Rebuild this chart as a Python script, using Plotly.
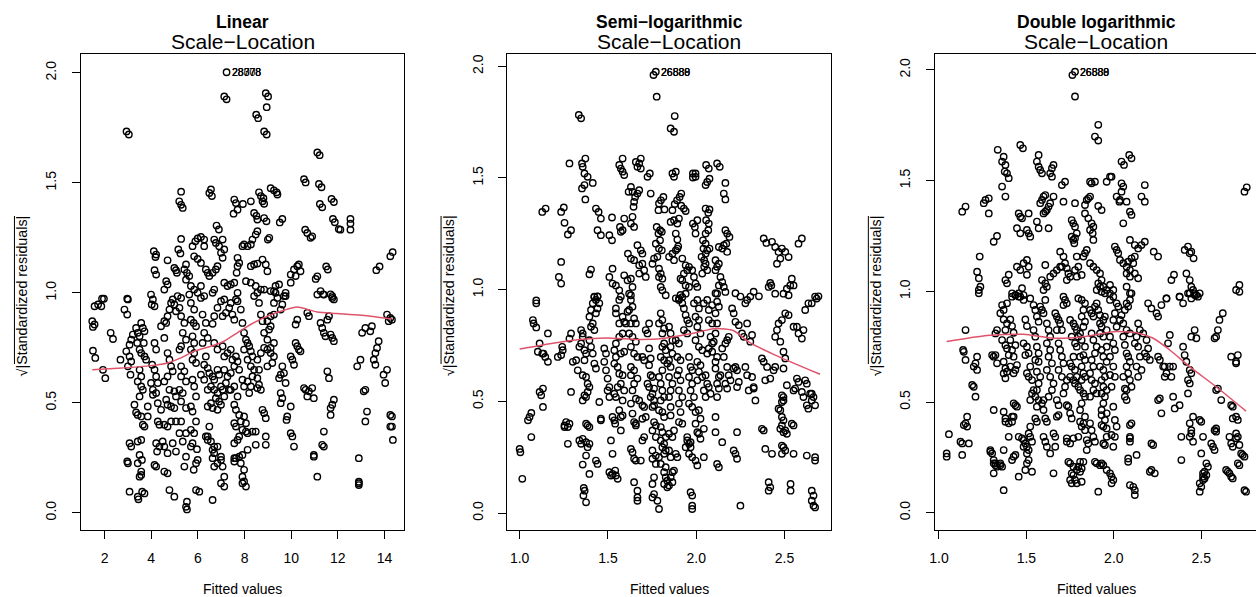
import plotly.graph_objects as go

W, H = 1256, 597
FONT = "Liberation Sans, Arial, Helvetica, sans-serif"

panel_titles = ["Linear", "Semi\u2212logarithmic", "Double logarithmic"]
sub_title = "Scale\u2212Location"
x_title = "Fitted values"
y_title = "\u221a|Standardized residuals|"

y_tick_vals = [0.0, 0.5, 1.0, 1.5, 2.0]
y_tick_text = ["0.0", "0.5", "1.0", "1.5", "2.0"]
lin_x_ticks = [2, 4, 6, 8, 10, 12, 14]
lin_x_text = ["2", "4", "6", "8", "10", "12", "14"]
log_x_ticks = [1.0, 1.5, 2.0, 2.5]
log_x_text = ["1.0", "1.5", "2.0", "2.5"]

# ---------------- Linear model: (fitted, sqrt|std resid|) ----------------
linear_points = [
(7.23,2.003),(7.13,1.893),(7.23,1.88),(8.91,1.908),(9.01,1.893),(8.95,1.844),(8.5,1.81),(8.58,1.794),(8.84,1.734),(8.95,1.72),(2.94,1.734),(3.04,1.72),(11.12,1.638),(11.22,1.626),(10.55,1.517),(10.62,1.502),(11.19,1.495),(11.3,1.48),(11.23,1.404),(11.33,1.389),(11.73,1.427),(11.83,1.413),(11.79,1.336),(11.87,1.321),(12.04,1.29),(12.11,1.287),(12.54,1.336),(12.54,1.315),(12.54,1.287),
(5.28,1.46),(5.2,1.416),(5.28,1.4),(5.35,1.386),(5.28,1.245),(6.56,1.47),(6.49,1.454),(6.6,1.44),(7.56,1.424),(7.63,1.408),(7.53,1.36),(7.7,1.378),(7.93,1.404),(8.27,1.416),(8.62,1.457),(8.7,1.44),(8.81,1.43),(8.77,1.416),(8.84,1.405),(9.12,1.476),(9.26,1.466),(9.38,1.457),(9.41,1.447),(8.41,1.363),(8.51,1.35),(8.55,1.333),(8.84,1.34),(8.94,1.325),(9.51,1.32),(9.62,1.336),(10.6,1.287),(10.69,1.272),(10.83,1.25),(10.9,1.257),(13.65,1.103),(13.79,1.12),(14.25,1.166),(14.35,1.185),(11.5,1.12),(11.57,1.106),(11.05,1.063),(11.12,1.075),(11.26,1.008),(11.37,0.993),(11.69,0.993),(11.76,0.977),
(4.11,1.189),(4.21,1.174),(4.18,1.163),(4.14,1.103),(4.21,1.083),(4.7,1.148),(4.64,1.053),(4.7,1.038),(4.56,1.015),(4.99,1.113),(5.06,1.103),(5.1,1.091),(5.16,1.197),(5.25,1.179),(5.49,1.129),(5.42,1.106),(5.53,1.091),(5.63,1.076),(5.49,1.06),(5.77,1.212),(5.89,1.234),(5.99,1.247),(6.13,1.254),(6.27,1.242),(6.27,1.212),(5.84,1.166),(5.99,1.154),(6.13,1.136),(5.7,1.031),(5.84,1.015),(5.99,1.0),(6.13,1.031),(6.34,1.106),(6.42,1.091),(6.49,1.076),(6.63,1.091),(6.77,1.106),(6.84,1.121),(6.63,1.0),(6.7,1.015),(6.7,1.242),(6.77,1.227),(6.91,1.212),(7.06,1.242),(7.13,1.197),(6.99,1.182),(7.06,1.159),(6.8,1.306),(6.9,1.288),(7.13,1.046),(7.27,1.031),(7.41,1.038),(7.56,1.046),(7.7,1.159),(7.77,1.136),(7.7,1.121),(7.66,1.091),(7.91,1.212),(7.98,1.22),(8.13,1.212),(8.27,1.22),(8.34,1.242),(8.48,1.265),(8.55,1.28),(9.0,1.242),(9.06,1.25),(8.27,1.121),(8.41,1.129),(8.55,1.133),(8.77,1.151),(8.91,1.129),(8.98,1.098),(8.06,1.053),(8.27,1.046),(8.48,1.031),(8.7,1.015),(8.84,1.015),(9.33,1.031),(9.48,1.038),(9.26,1.008),(9.76,0.985),(9.98,1.046),(10.12,1.106),(10.26,1.121),(10.33,1.129),(10.19,1.076),(10.4,1.098),(9.98,1.083),(1.89,0.973),(2.97,0.973),
(1.47,0.871),(1.57,0.856),(1.5,0.845),(1.5,0.737),(1.6,0.704),(1.57,0.939),(1.72,0.947),(1.86,0.939),(1.97,0.973),(1.93,0.65),(2.03,0.612),(2.26,0.818),(2.36,0.79),(2.68,0.696),(2.85,0.924),(2.97,0.901),(3.0,0.97),(2.93,0.734),(3.07,0.764),(3.14,0.787),(3.21,0.81),(3.07,0.711),(3.14,0.688),(3.0,0.666),(3.11,0.628),(3.35,0.84),(3.42,0.818),(3.5,0.802),(3.57,0.863),(3.64,0.84),(3.71,0.825),(3.4,0.772),(3.5,0.742),(3.57,0.726),(3.68,0.772),(3.71,0.711),(3.78,0.696),(3.5,0.65),(3.57,0.62),(3.42,0.597),(3.57,0.574),(3.64,0.559),(3.5,0.529),(3.28,0.491),(3.35,0.456),(3.42,0.445),(3.57,0.438),(3.64,0.4),(3.71,0.392),(3.85,0.483),(3.85,0.438),(3.07,0.316),(3.14,0.301),(3.42,0.324),(3.57,0.331),(3.5,0.263),(3.6,0.24),(3.42,0.225),(3.57,0.187),(3.57,0.172),(3.5,0.164),(2.97,0.233),(3.0,0.225),(3.07,0.096),(3.42,0.073),(3.45,0.061),(3.61,0.096),(3.71,0.088),
(3.99,0.992),(4.07,0.97),(4.02,0.947),(4.14,0.939),(4.14,0.772),(4.21,0.742),(4.04,0.673),(4.14,0.65),(4.21,0.62),(4.28,0.59),(4.07,0.559),(4.21,0.544),(3.99,0.59),(4.07,0.536),(4.28,0.498),(4.42,0.468),(4.28,0.415),(4.35,0.4),(4.21,0.316),(4.35,0.301),(4.25,0.278),(4.14,0.217),(4.21,0.21),
(4.42,0.848),(4.56,0.871),(4.7,0.894),(4.64,0.863),(4.78,0.924),(4.85,0.954),(4.92,0.97),(4.99,0.947),(5.06,0.916),(4.56,0.795),(4.7,0.726),(4.78,0.696),(4.85,0.666),(4.92,0.643),(4.7,0.62),(4.56,0.597),(4.78,0.559),(4.99,0.552),(5.06,0.529),(4.64,0.514),(4.7,0.491),(4.85,0.483),(4.99,0.476),(5.06,0.415),(4.85,0.415),(4.56,0.4),(4.7,0.392),(4.49,0.324),(4.56,0.301),(4.7,0.271),(4.92,0.316),(5.06,0.278),(4.56,0.187),(4.7,0.179),(4.78,0.103),(4.99,0.073),
(5.13,0.985),(5.28,0.977),(5.21,0.932),(5.28,0.894),(5.42,0.863),(5.35,0.818),(5.49,0.787),(5.28,0.757),(5.21,0.742),(5.28,0.666),(5.42,0.643),(5.28,0.62),(5.49,0.597),(5.21,0.559),(5.35,0.544),(5.28,0.506),(5.49,0.476),(5.28,0.415),(5.21,0.362),(5.35,0.324),(5.49,0.362),(5.49,0.255),(5.42,0.21),(5.53,0.05),(5.49,0.027),(5.53,0.015),
(5.63,0.992),(5.7,0.954),(5.84,0.924),(5.7,0.878),(5.82,0.863),(5.92,0.848),(5.77,0.802),(5.84,0.772),(5.7,0.742),(5.84,0.726),(5.77,0.696),(5.92,0.681),(5.77,0.605),(5.84,0.574),(5.92,0.529),(5.7,0.483),(5.77,0.46),(5.92,0.415),(5.7,0.377),(5.84,0.362),(5.77,0.316),(5.7,0.301),(5.92,0.225),(5.82,0.195),(5.92,0.103),(6.06,0.096),
(6.13,0.977),(6.27,0.985),(6.2,0.901),(6.34,0.863),(6.27,0.818),(6.42,0.795),(6.2,0.772),(6.34,0.711),(6.27,0.673),(6.42,0.658),(6.13,0.628),(6.27,0.605),(6.42,0.559),
(6.49,0.635),(6.63,0.62),(6.7,0.605),(6.84,0.65),(6.91,0.628),(6.56,0.574),(6.7,0.559),(6.84,0.544),(6.99,0.574),(6.77,0.521),(6.91,0.506),(6.56,0.498),(6.42,0.483),(6.63,0.476),(6.84,0.468),(6.99,0.491),(7.13,0.529),(7.06,0.559),(7.2,0.59),(7.27,0.62),(7.13,0.65),(7.41,0.635),(7.34,0.559),
(6.63,0.859),(6.7,0.894),(6.84,0.932),(6.99,0.962),(7.13,0.97),(7.06,0.894),(7.2,0.909),(7.34,0.932),(7.41,0.954),(7.48,0.901),(7.56,0.878),(7.63,0.97),(7.7,1.0),(7.7,0.962),
(6.7,0.772),(6.84,0.742),(7.06,0.757),(7.13,0.711),(7.27,0.726),(7.41,0.742),(7.48,0.696),(7.56,0.666),(7.63,0.711),(7.7,0.688),(7.77,0.65),
(6.49,0.392),(6.42,0.347),(6.63,0.286),(6.7,0.271),(6.63,0.248),(6.7,0.21),(6.84,0.225),(6.99,0.24),(7.13,0.164),(6.99,0.134),(7.13,0.119),(6.63,0.058),
(7.41,0.559),(7.56,0.574),(7.7,0.529),(7.56,0.491),(7.63,0.468),(7.77,0.445),(7.56,0.407),(7.63,0.392),(7.84,0.415),(7.56,0.316),(7.7,0.331),(7.77,0.255),(7.63,0.248),(7.84,0.225),(7.98,0.195),(7.91,0.164),(7.98,0.142),(8.06,0.119),(7.91,0.134),
(7.84,0.924),(7.91,0.863),(7.98,0.818),(8.06,0.787),(8.13,0.772),(8.2,0.757),(8.27,0.734),(8.34,0.711),(7.98,0.742),(8.13,0.696),(8.27,0.666),(8.41,0.65),(8.34,0.62),(8.13,0.597),(8.27,0.574),(8.2,0.544),(7.98,0.574),(7.91,0.605),
(7.98,0.438),(8.06,0.407),(7.91,0.377),(7.77,0.347),(8.13,0.286),(7.91,0.263),(8.34,0.369),(8.48,0.369),(8.48,0.309),
(8.41,0.985),(8.55,1.0),(8.62,0.954),(8.7,0.901),(8.77,0.871),(8.84,0.818),(8.98,0.787),(8.84,0.75),(8.7,0.726),(8.55,0.696),(8.62,0.65),(8.55,0.612),(8.62,0.582),(8.7,0.559),(8.55,0.567),(8.77,0.468),(8.84,0.453),(8.91,0.43),
(9.12,1.008),(9.33,1.0),(9.41,0.977),(9.26,0.954),(9.26,0.901),(9.12,0.894),(8.98,0.871),(9.12,0.848),(9.05,0.833),(9.26,0.772),(9.12,0.75),(8.98,0.742),(9.12,0.726),(9.26,0.711),(9.19,0.681),(8.98,0.666),
(9.69,0.985),(9.62,0.947),(9.55,0.924),(9.76,1.0),(9.55,0.628),(9.48,0.612),(9.69,0.635),(9.62,0.666),(9.76,0.59),(9.55,0.544),(9.62,0.521),(9.55,0.498),
(9.83,0.438),(9.8,0.422),(9.98,0.483),(9.98,0.362),(10.05,0.347),(10.12,0.301),
(9.98,0.711),(10.05,0.696),(10.12,0.673),(10.19,0.772),(10.26,0.757),(10.33,0.742),(10.4,0.734),(10.26,0.878),(10.19,0.856),
(10.55,0.567),(10.62,0.559),(10.69,0.529),(10.76,0.552),(10.9,0.567),(10.97,0.521),(10.69,0.909),(10.76,0.894),(10.97,0.263),(10.97,0.255),(11.12,0.164),
(11.26,0.863),(11.33,0.84),(11.4,0.818),(11.47,0.802),(11.55,0.878),(11.62,0.894),(11.12,0.992),(11.4,0.992),(11.76,0.985),(11.83,0.97),
(11.4,0.369),(11.33,0.309),(11.4,0.301),(11.55,0.643),(11.62,0.612),(11.69,0.476),(11.76,0.491),(11.69,0.445),(11.83,0.514),(11.69,0.81),(11.76,0.795),(11.83,0.78),
(12.83,0.666),(12.97,0.696),(12.9,0.248),(12.9,0.141),(12.9,0.134),(12.9,0.126),(13.11,0.552),(13.18,0.559),(13.18,0.415),(13.25,0.46),(13.04,0.818),(13.18,0.84),(13.46,0.848),(13.39,0.825),(13.54,0.696),(13.61,0.726),(13.68,0.749),(13.75,0.78),(13.61,0.673),(13.96,0.628),(14.03,0.59),(14.11,0.65),(14.11,0.901),(14.25,0.886),(14.18,0.871),(14.32,0.878),(14.25,0.445),(14.32,0.438),(14.25,0.392),(14.32,0.392),(14.36,0.331),
(6.34,0.347),(6.42,0.331),(6.56,0.324),(6.7,0.301),(6.84,0.301),(7.06,0.21),(6.99,0.255),(7.56,0.248),(7.56,0.233),(5.99,0.24),(5.96,0.289),(8.06,0.369),(8.13,0.362),(8.91,0.309),(8.91,0.347),
]
linear_smooth_x = [1.47, 2.57, 3.99, 4.70, 5.27, 5.84, 6.56, 7.12, 7.69, 8.26, 8.98, 9.69, 10.26, 11.11, 11.96, 13.39, 14.31]
linear_smooth_y = [0.650, 0.657, 0.669, 0.681, 0.704, 0.734, 0.757, 0.780, 0.818, 0.856, 0.894, 0.921, 0.935, 0.913, 0.906, 0.894, 0.881]
linear_label_pt = (7.23, 2.003)
linear_labels = ["28308", "28078", "28778"]

# ---------------- Semi-logarithmic model ----------------
semi_points = [
(1.771,1.976),(1.758,1.961),(1.776,1.864),(1.878,1.777),(1.855,1.722),(1.874,1.707),(1.335,1.782),(1.348,1.767),(1.282,1.565),(1.353,1.565),(1.357,1.55),(1.372,1.587),(1.367,1.52),(1.385,1.505),(1.414,1.478),(1.353,1.453),(1.367,1.468),(1.372,1.404),(1.128,1.348),(1.147,1.363),(1.235,1.348),(1.25,1.368),(1.254,1.299),(1.235,1.124),(1.222,1.057),(1.235,1.027),(1.273,1.247),(1.291,1.266),(1.432,1.363),(1.447,1.348),(1.46,1.318),(1.441,1.266),(1.46,1.244),(1.508,1.244),(1.523,1.221),(1.523,1.323),(1.395,1.069),(1.404,1.09),(1.423,0.967),(1.441,0.97),(1.508,1.057),(1.526,1.027),(1.545,1.019),(1.564,0.997),(1.526,1.094),(1.564,1.558),(1.573,1.542),(1.583,1.528),(1.592,1.513),(1.583,1.587),(1.568,1.281),(1.583,1.266),(1.592,1.318),(1.573,1.259),(1.617,1.438),(1.63,1.46),(1.639,1.438),(1.648,1.393),(1.645,1.371),(1.63,1.296),(1.639,1.326),(1.648,1.281),(1.658,1.572),(1.667,1.55),(1.677,1.565),(1.686,1.587),(1.686,1.542),(1.677,1.445),(1.667,1.43),(1.654,1.415),(1.724,1.505),(1.737,1.52),(1.742,1.43),(1.789,1.386),(1.8,1.4),(1.814,1.415),(1.82,1.359),(1.786,1.356),(1.795,1.266),(1.776,1.281),(1.786,1.251),(1.805,1.259),(1.795,1.221),(1.771,1.206),(1.789,1.184),(1.805,1.176),
(1.613,1.161),(1.63,1.139),(1.648,1.132),(1.667,1.199),(1.686,1.176),(1.695,1.161),(1.677,1.109),(1.695,1.116),(1.705,1.087),(1.714,1.057),(1.677,1.072),(1.592,1.064),(1.611,1.042),(1.63,1.049),(1.639,1.012),(1.62,0.982),(1.63,0.975),(1.752,1.116),(1.761,1.139),(1.78,1.147),(1.789,1.094),(1.799,1.072),(1.808,1.049),(1.789,1.057),(1.799,1.012),(1.808,0.997),(1.827,0.975),
(1.865,1.356),(1.878,1.383),(1.891,1.4),(1.906,1.415),(1.915,1.43),(1.855,1.303),(1.874,1.311),(1.893,1.296),(1.902,1.318),(1.884,1.251),(1.893,1.224),(1.898,1.194),(1.865,1.52),(1.884,1.528),(1.874,1.505),(1.915,1.376),(1.93,1.363),(1.94,1.352),(1.846,1.147),(1.865,1.161),(1.874,1.132),(1.884,1.176),(1.893,1.184),
(1.921,1.139),(1.94,1.109),(1.949,1.087),(1.93,1.072),(1.911,1.049),(1.921,1.042),(1.94,1.019),(1.959,1.012),(1.94,0.982),(1.921,0.967),(1.902,0.96),(1.959,1.102),(1.977,1.087),(1.987,1.057),(1.996,1.027),(2.006,1.012),(1.981,1.52),(1.996,1.52),(1.996,1.505),(1.981,1.502),(1.981,1.296),(1.992,1.281),(2.006,1.311),(1.996,1.251),
(2.056,1.558),(2.071,1.542),(2.062,1.482),(2.075,1.497),(2.053,1.468),(2.118,1.565),(2.133,1.55),(2.165,1.478),(2.156,1.43),(2.165,1.404),(2.053,1.363),(2.068,1.344),(2.075,1.359),(2.056,1.311),(2.071,1.296),(2.068,1.266),(2.053,1.251),
(2.038,1.221),(2.053,1.206),(2.041,1.184),(2.053,1.161),(2.03,1.147),(2.045,1.132),(2.053,1.116),(2.045,1.102),(2.062,1.087),(2.034,1.072),(2.062,1.176),(2.075,1.184),(2.109,1.132),(2.128,1.116),(2.118,1.102),(2.109,1.087),(2.128,1.191),(2.147,1.184),(2.156,1.199),(2.17,1.206),(2.175,1.169),(2.165,1.266),(2.175,1.251),(2.188,1.236),(2.137,1.057),(2.147,1.034),(2.156,1.012),(2.165,0.99),(2.128,1.019),(2.118,0.982),
(2.382,1.229),(2.397,1.209),(2.429,1.214),(2.447,1.191),(2.466,1.169),(2.485,1.184),(2.504,1.169),(2.523,1.146),(2.476,1.139),(2.457,1.116),(2.41,1.012),(2.425,1.019),(2.419,1.03),(2.447,0.982),(2.355,0.97),(2.494,0.982),(2.513,1.004),(2.532,1.019),(2.541,1.049),(2.551,1.019),(2.523,0.975),(2.579,1.206),(2.598,1.229),(2.692,0.97),(2.682,0.96),(1.094,0.952),
(1.0,0.287),(1.004,0.272),(1.015,0.153),(1.047,0.415),(1.056,0.43),(1.066,0.448),(1.066,0.34),(1.075,0.864),(1.079,0.849),(1.094,0.831),(1.094,0.939),(1.103,0.722),(1.113,0.759),(1.128,0.714),(1.135,0.714),(1.145,0.699),(1.16,0.677),(1.16,0.804),(1.113,0.542),(1.122,0.527),(1.132,0.557),(1.132,0.475),(1.216,0.699),(1.235,0.707),(1.244,0.729),(1.241,0.744),(1.254,0.392),(1.263,0.407),(1.273,0.385),(1.282,0.4),(1.254,0.385),(1.273,0.31),(1.291,0.542),(1.282,0.781),(1.291,0.804),(1.301,0.677),(1.32,0.684),
(1.329,0.639),(1.338,0.744),(1.348,0.759),(1.357,0.789),(1.348,0.819),(1.367,0.729),(1.376,0.714),(1.367,0.684),(1.357,0.804),(1.338,0.325),(1.357,0.332),(1.348,0.31),(1.376,0.317),(1.385,0.295),(1.395,0.31),(1.357,0.217),(1.363,0.112),(1.368,0.1),(1.376,0.048),(1.361,0.078),(1.376,0.257),(1.395,0.175),(1.385,0.392),(1.395,0.385),(1.376,0.4),(1.357,0.617),(1.376,0.609),(1.385,0.579),(1.367,0.527),(1.376,0.519),(1.357,0.504),(1.395,0.564),(1.385,0.542),
(1.395,0.879),(1.404,0.909),(1.414,0.939),(1.423,0.969),(1.432,0.954),(1.441,0.969),(1.451,0.939),(1.441,0.916),(1.432,0.894),(1.404,0.834),(1.414,0.849),(1.423,0.819),(1.395,0.774),(1.404,0.744),(1.414,0.714),(1.423,0.669),(1.432,0.647),(1.432,0.235),(1.441,0.22),(1.451,0.497),(1.46,0.422),(1.46,0.415),(1.479,0.737),(1.489,0.714),(1.479,0.677),(1.489,0.639),(1.498,0.602),(1.508,0.564),(1.498,0.549),(1.508,0.519),
(1.508,0.183),(1.517,0.168),(1.526,0.175),(1.541,0.19),(1.545,0.168),(1.555,0.153),(1.526,0.43),(1.536,0.415),(1.541,0.4),(1.517,0.325),(1.526,0.265),
(1.545,0.894),(1.545,0.916),(1.564,0.954),(1.573,0.969),(1.564,0.849),(1.583,0.879),(1.592,0.856),(1.602,0.849),(1.583,0.804),(1.564,0.789),(1.545,0.759),(1.536,0.729),(1.545,0.699),(1.573,0.714),(1.592,0.722),(1.536,0.669),(1.555,0.654),(1.564,0.624),(1.583,0.617),(1.573,0.579),(1.555,0.564),(1.592,0.549),(1.536,0.534),(1.545,0.519),(1.583,0.504),(1.564,0.46),(1.583,0.437),(1.573,0.37),(1.573,0.43),
(1.611,0.901),(1.62,0.909),(1.63,0.954),(1.639,0.924),(1.63,0.849),(1.648,0.871),(1.658,0.849),(1.62,0.804),(1.639,0.789),(1.658,0.767),(1.63,0.744),(1.648,0.714),(1.667,0.699),(1.63,0.654),(1.648,0.639),(1.63,0.617),(1.667,0.602),(1.648,0.579),(1.639,0.549),(1.658,0.512),(1.63,0.49),(1.639,0.445),(1.648,0.407),(1.658,0.4),(1.658,0.392),
(1.63,0.287),(1.639,0.272),(1.648,0.243),(1.658,0.235),(1.686,0.235),(1.648,0.138),(1.667,0.1),(1.667,0.07),(1.667,0.055),(1.677,0.504),(1.695,0.482),(1.705,0.475),(1.714,0.43),(1.695,0.422),(1.705,0.34),(1.695,0.325),
(1.695,0.699),(1.705,0.684),(1.714,0.819),(1.724,0.804),(1.733,0.849),(1.733,0.737),(1.742,0.692),(1.733,0.662),(1.742,0.617),(1.724,0.579),(1.733,0.564),(1.742,0.519),
(1.752,0.609),(1.761,0.557),(1.752,0.534),(1.761,0.504),(1.761,0.482),(1.752,0.475),(1.761,0.407),(1.771,0.392),(1.752,0.37),(1.771,0.34),(1.752,0.28),(1.771,0.257),(1.752,0.243),(1.771,0.22),(1.761,0.16),(1.752,0.13),(1.761,0.085),(1.752,0.07),(1.78,0.055),(1.789,0.018),
(1.799,0.894),(1.808,0.864),(1.789,0.849),(1.818,0.826),(1.808,0.804),(1.818,0.759),(1.808,0.744),(1.827,0.729),(1.799,0.699),(1.818,0.684),(1.836,0.669),(1.808,0.639),(1.789,0.609),(1.799,0.579),(1.808,0.549),(1.818,0.519),(1.799,0.504),
(1.789,0.46),(1.808,0.452),(1.818,0.43),(1.799,0.385),(1.808,0.362),(1.827,0.34),(1.799,0.325),(1.818,0.31),(1.808,0.295),(1.827,0.28),(1.818,0.265),(1.789,0.25),(1.799,0.22),(1.827,0.205),(1.818,0.183),(1.827,0.16),(1.836,0.145),(1.818,0.13),(1.836,0.115),
(1.846,0.28),(1.855,0.25),(1.865,0.183),(1.874,0.19),(1.855,0.16),(1.865,0.138),(1.846,0.123),
(1.846,0.834),(1.855,0.804),(1.865,0.774),(1.855,0.744),(1.865,0.714),(1.846,0.684),(1.855,0.654),(1.846,0.609),(1.865,0.579),(1.855,0.549),(1.846,0.519),(1.855,0.475),(1.855,0.437),(1.846,0.355),(1.874,0.37),(1.865,0.34),
(1.884,0.774),(1.902,0.759),(1.893,0.699),(1.911,0.684),(1.902,0.639),(1.893,0.617),(1.911,0.594),(1.902,0.549),(1.921,0.519),(1.902,0.49),(1.911,0.452),(1.902,0.407),(1.921,0.4),
(1.884,0.961),(1.902,0.954),(1.911,0.976),(1.921,0.939),(1.93,0.916),(1.94,0.886),(1.949,0.864),(1.959,0.849),(1.93,0.819),(1.949,0.804),
(1.884,0.265),(1.893,0.25),(1.949,0.325),(1.959,0.31),(1.968,0.317),(1.959,0.265),(1.977,0.25),(1.949,0.34),(1.94,0.295),(1.968,0.295),
(1.959,0.699),(1.968,0.654),(1.977,0.639),(1.959,0.609),(1.977,0.579),(1.968,0.549),(1.987,0.519),(1.959,0.49),(1.977,0.475),
(1.968,0.093),(1.977,0.078),(1.977,0.033),(1.977,0.018),
(1.987,0.939),(2.006,0.954),(2.015,0.916),(1.996,0.879),(2.015,0.864),(2.006,0.834),(2.024,0.804),(1.996,0.774),(2.015,0.744),(2.034,0.729),(2.006,0.677),(2.024,0.662),(2.015,0.632),(2.034,0.609),(2.006,0.594),
(1.996,0.452),(2.015,0.46),(2.024,0.422),(1.996,0.4),(2.006,0.362),(2.015,0.355),(2.043,0.377),(1.996,0.235),(2.006,0.213),(2.043,0.25),(2.024,0.332),
(2.043,0.549),(2.053,0.519),(2.062,0.579),(2.071,0.564),(2.081,0.534),(2.053,0.617),(2.062,0.714),(2.071,0.737),(2.09,0.722),(2.081,0.789),(2.09,0.759),(2.099,0.767),
(2.043,0.939),(2.062,0.954),(2.071,0.909),(2.09,0.931),(2.109,0.894),(2.118,0.946),(2.109,0.984),(2.128,0.924),(2.071,0.864),(2.09,0.849),(2.118,0.849),
(2.109,0.804),(2.118,0.699),(2.109,0.677),(2.109,0.647),(2.128,0.609),(2.137,0.617),(2.118,0.579),(2.128,0.557),(2.118,0.519),(2.109,0.43),(2.109,0.362),(2.118,0.22),(2.128,0.205),
(2.147,0.737),(2.165,0.759),(2.175,0.774),(2.184,0.789),(2.156,0.699),(2.175,0.654),(2.184,0.617),(2.194,0.594),(2.165,0.579),(2.175,0.557),
(2.147,0.317),(2.212,0.28),(2.222,0.265),(2.231,0.243),(2.231,0.362),
(2.203,0.916),(2.212,0.894),(2.222,0.856),(2.241,0.841),(2.222,0.654),(2.231,0.639),(2.241,0.587),(2.231,0.564),(2.212,0.647),(2.25,0.033),
(2.222,0.984),(2.25,0.969),(2.278,0.939),(2.288,0.954),(2.306,0.969),(2.325,0.991),(2.259,0.804),(2.269,0.789),(2.288,0.849),(2.316,0.797),(2.306,0.767),
(2.278,0.654),(2.288,0.617),(2.316,0.609),(2.325,0.557),(2.325,0.564),(2.335,0.504),(2.297,0.549),
(2.372,0.692),(2.382,0.677),(2.401,0.654),(2.391,0.594),(2.419,0.602),(2.438,0.639),(2.447,0.654),(2.372,0.377),(2.382,0.37),(2.391,0.287),(2.429,0.265),(2.41,0.138),(2.419,0.115),(2.41,0.1),
(2.447,0.789),(2.457,0.819),(2.466,0.849),(2.485,0.864),(2.504,0.894),(2.523,0.886),(2.476,0.767),(2.494,0.722),(2.504,0.692),(2.494,0.647),
(2.466,0.467),(2.476,0.46),(2.485,0.43),(2.494,0.415),(2.485,0.392),(2.494,0.362),(2.504,0.37),(2.476,0.377),(2.513,0.355),(2.485,0.302),(2.494,0.295),(2.504,0.28),(2.485,0.265),(2.485,0.527),(2.494,0.519),(2.494,0.504),(2.485,0.497),(2.513,0.572),
(2.534,0.13),(2.534,0.1),(2.551,0.265),(2.541,0.4),(2.551,0.392),(2.56,0.557),(2.579,0.804),(2.607,0.819),(2.598,0.781),(2.551,0.549),(2.57,0.602),(2.579,0.587),(2.598,0.542),(2.607,0.519),(2.617,0.594),(2.626,0.579),(2.57,0.834),(2.551,0.834),
(2.635,0.467),(2.626,0.482),(2.654,0.504),(2.645,0.534),(2.673,0.482),(2.664,0.519),(2.654,0.534),(2.617,0.909),(2.635,0.939),(2.654,0.939),(2.673,0.969),(2.626,0.257),(2.673,0.25),(2.673,0.235),(2.654,0.1),(2.664,0.078),(2.654,0.055),(2.664,0.033),(2.673,0.025),
]
semi_smooth_x = [1.0, 1.207, 1.338, 1.489, 1.677, 1.808, 1.959, 2.109, 2.212, 2.297, 2.447, 2.701]
semi_smooth_y = [0.734, 0.762, 0.777, 0.784, 0.777, 0.781, 0.801, 0.826, 0.816, 0.766, 0.707, 0.621]
semi_label_pt = (1.771, 1.976)
semi_labels = ["26589", "26888", "26880"]

# ---------------- Double logarithmic model ----------------
double_points = [
(1.778,1.992),(1.763,1.977),(1.778,1.88),(1.911,1.752),(1.892,1.699),(1.911,1.681),(1.465,1.661),(1.48,1.646),(1.336,1.639),(1.361,1.586),(1.37,1.608),(1.38,1.571),(1.376,1.541),(1.389,1.533),(1.399,1.511),(1.361,1.473),(1.38,1.428),(1.57,1.616),(1.56,1.586),(1.57,1.563),(1.579,1.548),(1.589,1.533),(1.636,1.533),(1.646,1.556),(1.655,1.571),(1.646,1.518),(1.703,1.48),(1.721,1.495),(1.133,1.36),(1.152,1.383),(1.256,1.398),(1.266,1.413),(1.285,1.42),(1.285,1.352),(1.313,1.224),(1.332,1.25),(1.456,1.352),(1.465,1.337),(1.475,1.33),(1.513,1.352),(1.446,1.285),(1.465,1.262),(1.503,1.277),(1.513,1.262),(1.522,1.247),(1.56,1.315),(1.57,1.285),(1.627,1.285),
(1.579,1.398),(1.589,1.413),(1.598,1.428),(1.608,1.435),(1.608,1.36),(1.617,1.367),(1.598,1.352),(1.627,1.383),(1.636,1.398),(1.655,1.428),(1.712,1.405),(1.778,1.398),(1.759,1.322),(1.768,1.307),(1.778,1.292),(1.759,1.247),(1.768,1.232),(1.778,1.24),(1.788,1.262),(1.774,1.217),
(1.835,1.39),(1.845,1.413),(1.854,1.42),(1.864,1.428),(1.835,1.352),(1.854,1.33),(1.873,1.307),(1.883,1.292),(1.864,1.277),(1.879,1.262),(1.883,1.232),(1.873,1.488),(1.892,1.495),(1.864,1.495),(1.911,1.386),(1.93,1.367),(1.959,1.495),(1.978,1.518),(1.987,1.518),(2.016,1.428),(2.035,1.413),(2.044,1.45),(2.054,1.473),(2.044,1.488),(2.032,1.405),(2.044,1.586),(2.058,1.571),(2.088,1.616),(2.101,1.601),(2.073,1.405),(2.092,1.36),(2.101,1.345),(2.054,1.307),(2.158,1.428),(2.177,1.405),(2.177,1.48),(2.092,1.232),(2.12,1.209),(2.139,1.194),(2.158,1.209),(2.177,1.224),(2.228,1.179),(2.253,1.157),(2.405,1.187),(2.424,1.202),(2.443,1.179),(2.456,1.149),(2.434,1.172),(2.329,1.051),(2.344,1.075),(2.747,1.45),(2.76,1.47),(2.699,1.006),(2.718,1.029),
(1.218,1.089),(1.228,1.059),(1.237,1.021),(1.233,1.157),(1.228,0.991),(1.38,1.051),(1.399,1.075),(1.389,1.036),(1.418,0.991),(1.437,0.983),(1.456,0.976),(1.475,1.014),(1.484,0.983),(1.446,1.111),(1.465,1.096),(1.484,1.127),(1.503,1.142),(1.513,1.111),(1.503,1.075),
(1.589,1.051),(1.608,1.036),(1.617,1.021),(1.598,1.006),(1.636,1.066),(1.655,1.081),(1.674,1.096),(1.693,1.111),(1.608,1.119),(1.693,1.179),(1.712,1.157),(1.721,1.127),(1.703,1.111),(1.731,1.104),(1.74,1.081),(1.75,1.066),(1.731,1.051),(1.788,1.157),(1.797,1.111),(1.778,1.096),(1.788,1.066),(1.816,1.074),(1.826,1.157),(1.835,1.172),(1.845,1.187),
(1.864,1.127),(1.883,1.111),(1.902,1.096),(1.921,1.081),(1.93,1.051),(1.911,1.036),(1.94,1.021),(1.93,0.998),(1.949,0.991),(1.902,1.006),(1.921,1.021),(1.959,1.006),(1.978,1.029),(1.997,1.006),(1.978,0.991),
(2.006,1.202),(2.016,1.187),(2.025,1.172),(2.035,1.142),(2.054,1.127),(2.073,1.111),(2.082,1.134),(2.092,1.096),(2.073,1.081),(2.092,1.066),(2.111,1.127),(2.12,1.157),(2.101,1.149),(2.12,1.081),(2.139,1.059),(2.073,1.021),(2.092,0.991),(2.301,0.968),(2.376,0.976),(2.415,1.081),(2.434,1.051),(2.443,1.021),(2.453,1.006),(2.462,0.991),(2.472,0.983),(2.424,0.991),(2.443,0.968),(2.434,0.991),
(1.044,0.268),(1.044,0.253),(1.057,0.355),(1.123,0.321),(1.133,0.313),(1.133,0.261),(1.142,0.396),(1.152,0.404),(1.161,0.434),(1.161,0.389),(1.138,0.735),(1.142,0.727),(1.152,0.69),(1.171,0.313),(1.152,0.825),(1.19,0.577),(1.199,0.569),(1.199,0.66),(1.209,0.675),(1.218,0.645),(1.218,0.705),(1.209,0.524),(1.228,1.006),
(1.294,0.283),(1.294,0.276),(1.304,0.268),(1.313,0.238),(1.313,0.223),(1.323,0.215),(1.332,0.208),(1.323,0.223),(1.313,0.178),(1.37,0.283),(1.351,0.223),(1.351,0.215),(1.361,0.208),(1.313,0.464),(1.323,0.712),(1.313,0.705),(1.323,0.81),(1.332,0.825),(1.332,0.675),(1.304,0.712),
(1.351,0.901),(1.37,0.916),(1.361,0.938),(1.389,0.946),(1.37,0.873),(1.389,0.855),(1.38,0.825),(1.361,0.78),(1.38,0.757),(1.389,0.742),(1.399,0.712),(1.37,0.682),(1.38,0.652),(1.37,0.629),(1.38,0.607),(1.389,0.637),
(1.37,0.456),(1.38,0.411),(1.38,0.426),(1.399,0.404),(1.418,0.434),(1.427,0.434),(1.418,0.411),(1.37,0.102),(1.399,0.343),(1.418,0.238),(1.427,0.253),(1.437,0.261),(1.456,0.163),
(1.408,0.873),(1.418,0.843),(1.427,0.813),(1.408,0.78),(1.437,0.757),(1.418,0.735),(1.427,0.705),(1.408,0.66),(1.427,0.63),(1.437,0.645),(1.446,0.667),(1.418,0.976),(1.437,0.983),(1.465,0.976),(1.484,0.961),(1.456,0.991),(1.427,0.494),(1.437,0.486),(1.446,0.479),
(1.456,0.343),(1.475,0.336),(1.484,0.328),(1.494,0.313),(1.503,0.298),(1.513,0.283),(1.484,0.298),(1.503,0.268),(1.522,0.343),(1.532,0.321),(1.494,0.193),(1.503,0.223),(1.513,0.238),(1.532,0.185),(1.513,0.358),(1.522,0.389),
(1.494,0.873),(1.503,0.843),(1.484,0.765),(1.503,0.75),(1.513,0.72),(1.494,0.712),(1.503,0.63),(1.513,0.614),(1.532,0.599),(1.522,0.66),(1.541,0.554),(1.551,0.524),(1.532,0.539),(1.522,0.509),
(1.522,0.968),(1.541,0.938),(1.551,0.916),(1.56,0.886),(1.57,0.863),(1.579,0.931),(1.589,0.916),(1.598,0.901),(1.608,0.961),
(1.541,0.825),(1.551,0.795),(1.56,0.75),(1.57,0.72),(1.551,0.69),(1.57,0.682),(1.56,0.637),(1.579,0.614),(1.57,0.584),(1.56,0.554),(1.57,0.509),(1.56,0.479),(1.551,0.426),(1.56,0.411),
(1.589,0.494),(1.598,0.464),(1.608,0.426),(1.617,0.411),(1.598,0.343),(1.608,0.321),(1.617,0.298),(1.636,0.268),(1.598,0.509),
(1.617,0.855),(1.627,0.825),(1.636,0.795),(1.617,0.765),(1.636,0.735),(1.627,0.705),(1.646,0.675),(1.617,0.645),(1.636,0.614),(1.655,0.584),(1.646,0.554),(1.627,0.524),
(1.655,0.358),(1.674,0.434),(1.684,0.441),(1.665,0.343),(1.655,0.178),(1.665,0.298),(1.674,0.509),(1.684,0.486),
(1.665,0.901),(1.674,0.886),(1.684,0.871),(1.693,0.855),(1.674,0.825),(1.703,0.825),(1.712,0.976),(1.721,0.961),(1.731,0.946),(1.712,0.938),
(1.684,0.765),(1.693,0.735),(1.703,0.705),(1.712,0.675),(1.684,0.645),(1.703,0.614),(1.731,0.599),(1.721,0.569),(1.712,0.539),
(1.731,0.486),(1.74,0.479),(1.75,0.449),(1.759,0.426),(1.731,0.336),(1.731,0.321),(1.75,0.313),(1.769,0.336),(1.797,0.343),
(1.74,0.23),(1.75,0.223),(1.759,0.178),(1.769,0.17),(1.778,0.148),(1.759,0.133),(1.769,0.208),(1.788,0.193),(1.797,0.208),(1.807,0.23),(1.816,0.2),(1.807,0.185),(1.788,0.133),(1.816,0.14),(1.75,0.148),(1.826,0.23),
(1.75,0.871),(1.769,0.855),(1.778,0.84),(1.788,0.825),(1.759,0.795),(1.778,0.765),(1.788,0.75),(1.769,0.705),(1.75,0.675),(1.759,0.66),(1.778,0.645),(1.75,0.614),(1.769,0.599),(1.788,0.614),(1.778,0.584),(1.797,0.569),
(1.797,0.968),(1.816,0.961),(1.835,0.946),(1.826,0.916),(1.816,0.886),(1.835,0.863),(1.826,0.84),(1.807,0.81),(1.797,0.795),(1.816,0.78),(1.835,0.75),(1.826,0.712),(1.807,0.705),(1.835,0.69),(1.816,0.66),(1.826,0.63),(1.835,0.614),(1.816,0.599),(1.807,0.554),(1.826,0.539),(1.835,0.524),(1.816,0.494),(1.807,0.464),(1.835,0.434),(1.807,0.411),(1.826,0.404),(1.816,0.389),
(1.835,0.373),(1.845,0.328),(1.854,0.313),(1.845,0.283),
(1.864,0.916),(1.873,0.901),(1.883,0.886),(1.892,0.931),(1.902,0.946),(1.911,0.916),(1.921,0.893),(1.873,0.81),(1.883,0.78),(1.902,0.75),(1.892,0.72),(1.873,0.69),(1.883,0.66),(1.864,0.63),(1.873,0.599),(1.892,0.584),(1.883,0.554),(1.902,0.539),(1.864,0.524),
(1.864,0.404),(1.873,0.373),(1.883,0.343),(1.892,0.321),(1.892,0.23),(1.902,0.223),(1.921,0.215),(1.93,0.223),(1.94,0.215),(1.911,0.095),
(1.921,0.855),(1.93,0.84),(1.94,0.871),(1.949,0.886),(1.959,0.825),(1.921,0.81),(1.94,0.795),(1.959,0.75),(1.93,0.735),(1.94,0.705),(1.959,0.682),(1.921,0.66),(1.94,0.645),(1.949,0.614),(1.93,0.599),(1.94,0.569),(1.959,0.554),(1.93,0.539),(1.949,0.524),(1.94,0.494),(1.93,0.464),(1.959,0.449),(1.93,0.441),(1.949,0.419),
(1.93,0.396),(1.94,0.389),(1.959,0.381),(1.94,0.313),(1.949,0.306),(1.959,0.343),(1.959,0.193),(1.978,0.178),(1.987,0.163),(1.987,0.133),(1.997,0.148),
(1.978,0.961),(1.997,0.976),(2.016,0.946),(2.025,0.931),(2.006,0.901),(1.997,0.871),(2.016,0.84),(1.978,0.795),(1.997,0.765),(2.006,0.735),(1.978,0.705),(1.997,0.66),(1.978,0.622),(2.006,0.614),(1.987,0.569),(1.997,0.479),(2.006,0.419),(2.016,0.389),(1.987,0.351),(2.006,0.343),(1.997,0.298),
(2.035,0.871),(2.044,0.893),(2.054,0.855),(2.063,0.916),(2.073,0.946),(2.082,0.931),(2.092,0.961),(2.101,0.991),(2.073,0.825),(2.092,0.81),(2.054,0.795),(2.063,0.758),(2.073,0.72),(2.082,0.705),(2.092,0.682),(2.073,0.66),(2.082,0.63),(2.054,0.614),(2.092,0.599),(2.101,0.569),(2.073,0.554),(2.063,0.524),
(2.063,0.56),(2.073,0.509),(2.092,0.396),(2.101,0.404),(2.092,0.336),(2.092,0.321),(2.092,0.343),(2.082,0.245),(2.082,0.23),(2.092,0.125),(2.111,0.117),(2.12,0.102),(2.12,0.08),
(2.13,0.261),(2.139,0.855),(2.149,0.825),(2.13,0.795),(2.139,0.75),(2.149,0.705),(2.13,0.66),(2.158,0.645),(2.139,0.614),(2.12,0.765),
(2.168,0.81),(2.187,0.78),(2.196,0.742),(2.177,0.72),(2.187,0.705),(2.206,0.69),(2.196,0.946),(2.215,0.923),(2.244,0.901),(2.253,0.886),(2.272,0.938),(2.301,0.968),
(2.206,0.185),(2.215,0.193),(2.234,0.178),(2.215,0.313),(2.225,0.306),
(2.253,0.705),(2.263,0.69),(2.253,0.509),(2.263,0.516),(2.272,0.449),(2.282,0.66),(2.301,0.63),(2.291,0.614),(2.32,0.66),(2.31,0.765),(2.32,0.803),(2.291,0.66),
(2.339,0.66),(2.329,0.614),(2.339,0.524),(2.348,0.471),(2.376,0.486),(2.386,0.343),(2.386,0.238),
(2.376,0.976),(2.396,0.946),(2.396,0.75),(2.405,0.712),(2.415,0.682),(2.424,0.599),(2.434,0.645),(2.424,0.539),(2.434,0.584),(2.443,0.63),
(2.434,0.404),(2.443,0.373),(2.453,0.434),(2.443,0.358),(2.434,0.343),(2.453,0.321),
(2.434,0.991),(2.462,0.983),(2.481,0.976),(2.491,0.991),(2.443,0.795),(2.462,0.825),(2.472,0.788),
(2.491,0.419),(2.5,0.411),(2.51,0.343),(2.5,0.268),
(2.491,0.133),(2.5,0.117),(2.491,0.095),(2.51,0.178),(2.519,0.185),(2.529,0.223),(2.51,0.163),(2.519,0.155),(2.529,0.17),(2.538,0.208),(2.51,0.148),
(2.557,0.313),(2.567,0.298),(2.576,0.283),(2.585,0.366),(2.576,0.373),(2.585,0.381),
(2.576,0.788),(2.585,0.795),(2.595,0.825),(2.604,0.871),(2.623,0.901),(2.614,0.509),(2.585,0.554),(2.595,0.561),
(2.642,0.193),(2.652,0.185),(2.661,0.178),(2.671,0.163),(2.68,0.155),
(2.661,0.343),(2.671,0.313),(2.68,0.298),(2.699,0.336),(2.709,0.343),(2.699,0.358),
(2.671,0.486),(2.68,0.479),(2.68,0.426),(2.699,0.434),(2.709,0.419),(2.671,0.705),(2.699,0.682),(2.699,0.675),(2.709,0.712),(2.718,0.998),
(2.709,0.223),(2.718,0.215),(2.728,0.268),(2.737,0.261),(2.747,0.253),(2.756,0.095),(2.747,0.102),(2.718,0.306),
]
double_smooth_x = [1.044, 1.275, 1.484, 1.655, 1.826, 1.997, 2.130, 2.225, 2.320, 2.433, 2.585, 2.756]
double_smooth_y = [0.773, 0.800, 0.806, 0.788, 0.795, 0.818, 0.813, 0.788, 0.735, 0.660, 0.569, 0.459]
double_label_pt = (1.778, 1.992)
double_labels = ["26589", "26888", "26880"]

# ---------------- geometry (pixels) ----------------
box_lr = [(76.0, 401.0), (504.3, 829.3), (933.3, 1258.3)]
box_top, box_bottom = 54.0, 530.0
x_ranges = [(0.975, 14.854), (0.930, 2.763), (0.975, 2.826)]
y_ranges = [(-0.0785, 2.086), (-0.076, 2.055), (-0.078, 2.072)]

panels = [
    dict(pts=linear_points, sx=linear_smooth_x, sy=linear_smooth_y, lp=linear_label_pt, lt=linear_labels,
         xt=lin_x_ticks, xtt=lin_x_text),
    dict(pts=semi_points, sx=semi_smooth_x, sy=semi_smooth_y, lp=semi_label_pt, lt=semi_labels,
         xt=log_x_ticks, xtt=log_x_text),
    dict(pts=double_points, sx=double_smooth_x, sy=double_smooth_y, lp=double_label_pt, lt=double_labels,
         xt=log_x_ticks, xtt=log_x_text),
]

fig = go.Figure()
annotations = []
shapes = []
layout_axes = {}
ydom = [(H - box_bottom) / H, (H - box_top) / H]

for i, p in enumerate(panels):
    n = "" if i == 0 else str(i + 1)
    xa, ya = "x" + n, "y" + n
    l, r = box_lr[i]
    x0, x1 = x_ranges[i]
    ppu = (r - l) / (x1 - x0)
    full_center = (l + r) / 2
    if r > W:
        x1 = x0 + (W - l) / ppu
        r = W
    clipped = box_lr[i][1] > W

    fig.add_trace(go.Scatter(
        x=[q[0] for q in p["pts"]], y=[q[1] for q in p["pts"]],
        mode="markers", xaxis=xa, yaxis=ya, showlegend=False, hoverinfo="skip",
        marker=dict(symbol="circle-open", size=6.4, color="black", line=dict(width=1.4, color="black")),
    ))
    fig.add_trace(go.Scatter(
        x=p["sx"], y=p["sy"], mode="lines", xaxis=xa, yaxis=ya, showlegend=False,
        hoverinfo="skip", line=dict(color="#DF536B", width=1.5, shape="spline", smoothing=0.6),
    ))

    layout_axes["xaxis" + n] = dict(
        domain=[l / W, r / W], range=[x0, x1], anchor=ya,
        tickvals=p["xt"], ticktext=p["xtt"], ticks="outside", ticklen=8, tickwidth=1,
        tickcolor="black", showline=True, linecolor="black", linewidth=1, mirror=True,
        showgrid=False, zeroline=False, ticklabelstandoff=7,
        tickfont=dict(family=FONT, size=14, color="black"),
    )
    layout_axes["yaxis" + n] = dict(
        domain=ydom, range=list(y_ranges[i]), anchor=xa,
        tickvals=y_tick_vals, ticktext=y_tick_text, ticks="outside", ticklen=8, tickwidth=1,
        tickcolor="black", showline=True, linecolor="black", linewidth=1,
        mirror=(not clipped), showgrid=False, zeroline=False, tickangle=-90,
        ticklabelstandoff=10, tickfont=dict(family=FONT, size=14, color="black"),
    )

    cx = full_center / W
    annotations.append(dict(text="<b>%s</b>" % panel_titles[i], x=cx, y=1 - 22 / H, xref="paper", yref="paper",
                            showarrow=False, xanchor="center", yanchor="middle",
                            font=dict(family=FONT, size=17.5, color="black")))
    annotations.append(dict(text=sub_title, x=cx, y=1 - 41 / H, xref="paper", yref="paper",
                            showarrow=False, xanchor="center", yanchor="middle",
                            font=dict(family=FONT, size=21, color="black")))
    annotations.append(dict(text=x_title, x=cx, y=1 - 589 / H, xref="paper", yref="paper",
                            showarrow=False, xanchor="center", yanchor="middle",
                            font=dict(family=FONT, size=14, color="black")))
    ylx = l - 58.5
    ylc = 296.0
    annotations.append(dict(text=y_title, x=ylx / W, y=1 - ylc / H, xref="paper", yref="paper",
                            showarrow=False, xanchor="center", yanchor="middle", textangle=-90,
                            font=dict(family=FONT, size=14.3, color="black")))
    shapes.append(dict(type="line", xref="paper", yref="paper",
                       x0=(ylx - 8) / W, x1=(ylx - 8) / W,
                       y0=1 - (ylc + 68) / H, y1=1 - (ylc - 80) / H,
                       line=dict(color="black", width=1)))
    for k, t in enumerate(p["lt"]):
        annotations.append(dict(text=t, x=p["lp"][0], y=p["lp"][1], xref=xa, yref=ya,
                                showarrow=False, xanchor="left", yanchor="middle", xshift=3,
                                font=dict(family=FONT, size=10.5, color="black")))

fig.update_layout(
    width=W, height=H, margin=dict(l=0, r=0, t=0, b=0),
    paper_bgcolor="white", plot_bgcolor="white",
    annotations=annotations, shapes=shapes, showlegend=False,
    **layout_axes,
)

fig.write_html("out.html")
